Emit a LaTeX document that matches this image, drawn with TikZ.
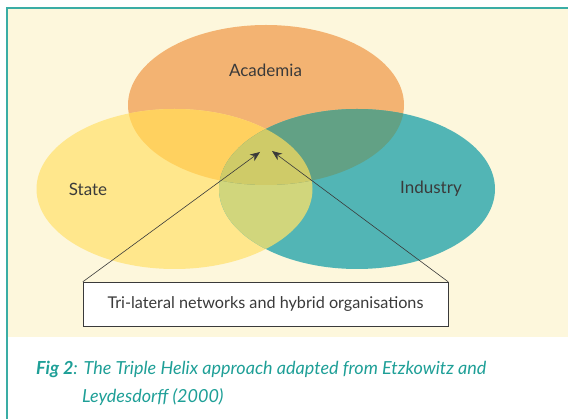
\documentclass[tikz,border=0pt]{standalone}
\usepackage{fontspec}
\setmainfont{Lato}
\usetikzlibrary{shapes.geometric, arrows.meta}
\definecolor{paper}{HTML}{FDF7DC}
\definecolor{frameteal}{HTML}{3AADA5}
\definecolor{captionteal}{HTML}{1E9F97}
\definecolor{textgrey}{HTML}{3A3A3A}
\definecolor{academiacol}{HTML}{F3B372}
\definecolor{statecol}{HTML}{FFE78C}
\definecolor{industrycol}{HTML}{52B5B5}
\definecolor{acstcol}{HTML}{FFD15F}
\definecolor{acincol}{HTML}{62A185}
\definecolor{stincol}{HTML}{D1D67C}
\definecolor{triplecol}{HTML}{CFCB68}
\tikzstyle{sector} = [ellipse, inner sep=0pt, minimum width=276pt, minimum height=160pt]
\tikzstyle{sectorname} = [text=textgrey, font=\fontsize{17}{20}\selectfont]
\tikzstyle{hybridbox} = [rectangle, draw=textgrey, fill=white, text=textgrey, minimum width=365pt, minimum height=44pt, font=\fontsize{16.2}{19}\selectfont]
\tikzstyle{arrow} = [semithick, textgrey, -{Stealth[length=10pt,width=8pt]}]

\begin{document}
\begin{tikzpicture}[x=1pt,y=-1pt]
\useasboundingbox (0,0) rectangle (568,419);
\fill[paper] (8,9) rectangle (568,337);
\draw[frameteal, line width=2pt] (7,419) -- (7,8) -- (568,8);

\node (academia) [sector, fill=academiacol] at (266,105) {};
\node (state) [sector, fill=statecol] at (174.5,189) {};
\node (industry) [sector, fill=industrycol] at (357,189) {};

% overlaps
\begin{scope}
  \clip (state.center) ellipse [x radius=138, y radius=80];
  \fill[stincol] (industry.center) ellipse [x radius=138, y radius=80];
\end{scope}
\begin{scope}
  \clip (academia.center) ellipse [x radius=138, y radius=80];
  \fill[acstcol] (state.center) ellipse [x radius=138, y radius=80];
  \fill[acincol] (industry.center) ellipse [x radius=138, y radius=80];
  \clip (state.center) ellipse [x radius=138, y radius=80];
  \fill[triplecol] (industry.center) ellipse [x radius=138, y radius=80];
\end{scope}

\node (academianame) [sectorname] at (265.5,70) {Academia};
\node (statename) [sectorname] at (88,189) {State};
\node (industryname) [sectorname] at (431,189) {Industry};

\node (hybrid) [hybridbox] at (265.5,304) {Tri-lateral networks and hybrid organisations};
\coordinate (lefttip) at (260,152);
\coordinate (righttip) at (272,151);

\draw [arrow] (hybrid.north west) -- (lefttip);
\draw [arrow] (hybrid.north east) -- (righttip);

\node (caption) [anchor=north west, align=left, text=captionteal, font=\itshape\fontsize{18}{28}\selectfont, inner sep=0pt] at (36,361)
  {\textbf{Fig 2}: The Triple Helix approach adapted from Etzkowitz and\\\hspace*{46pt}Leydesdorff (2000)};
\end{tikzpicture}
\end{document}
